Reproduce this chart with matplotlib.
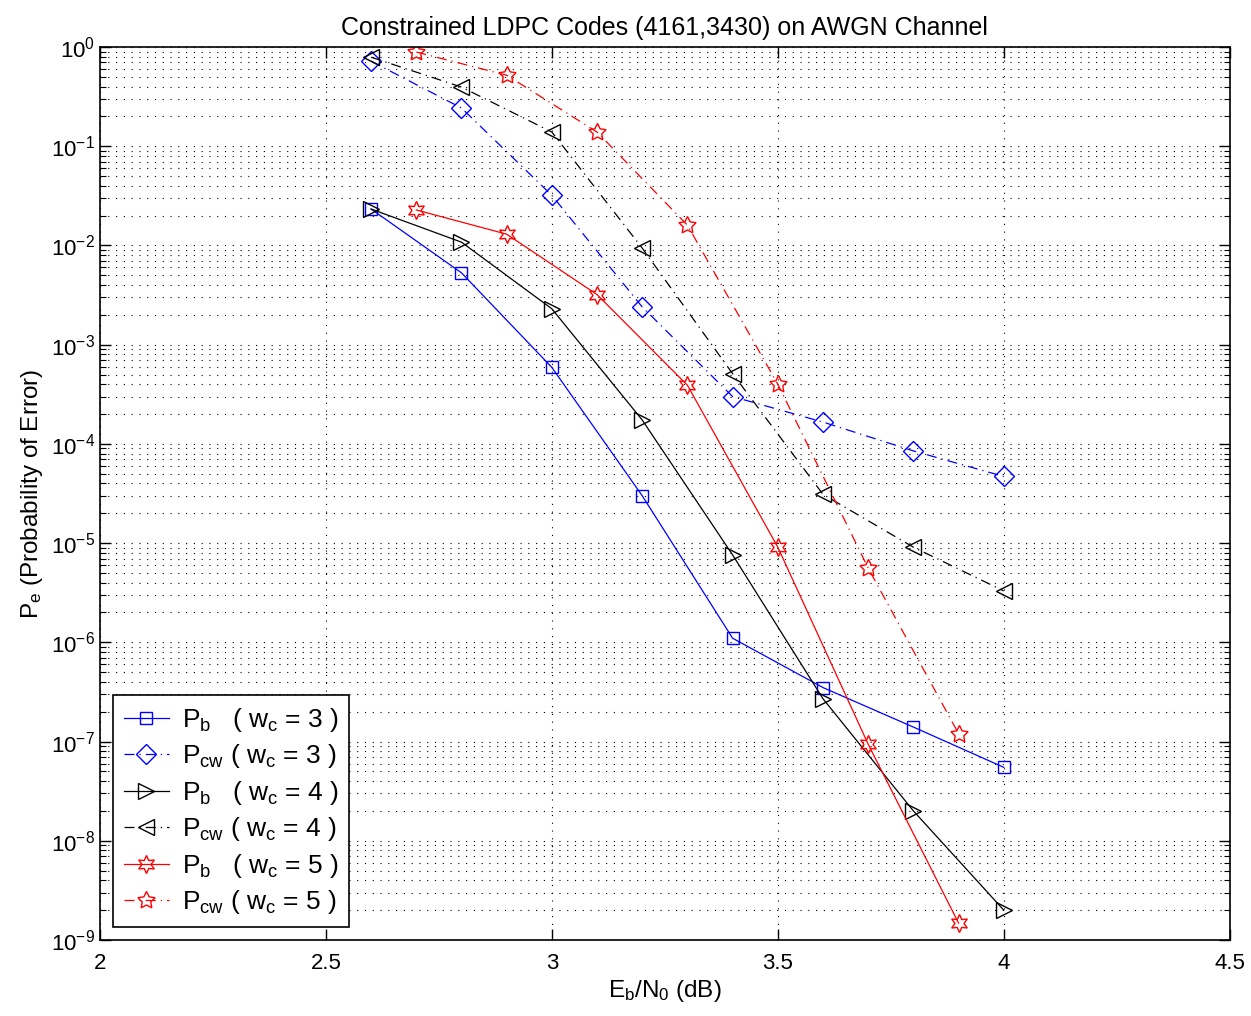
import matplotlib
matplotlib.use('Agg')
import matplotlib.pyplot as plt
from matplotlib.ticker import LogLocator, NullFormatter, FixedLocator

plt.rcParams['font.family'] = ['Liberation Sans', 'DejaVu Sans']
plt.rcParams['mathtext.fontset'] = 'custom'
plt.rcParams['mathtext.rm'] = 'Liberation Sans'
plt.rcParams['mathtext.it'] = 'Liberation Sans'
plt.rcParams['mathtext.bf'] = 'Liberation Sans:bold'

# Eb/N0 points (dB)
snr_a = [2.6, 2.8, 3.0, 3.2, 3.4, 3.6, 3.8, 4.0]
snr_b = [2.7, 2.9, 3.1, 3.3, 3.5, 3.7, 3.9]

# error probabilities
pb_w3 = [2.33e-2, 5.3e-3, 5.9e-4, 3.0e-5, 1.1e-6, 3.5e-7, 1.4e-7, 5.5e-8]
pcw_w3 = [0.72, 0.243, 3.2e-2, 2.4e-3, 3.0e-4, 1.66e-4, 8.5e-5, 4.7e-5]
pb_w4 = [2.33e-2, 1.08e-2, 2.3e-3, 1.74e-4, 7.6e-6, 2.7e-7, 2.0e-8, 2.0e-9]
pcw_w4 = [0.79, 0.395, 0.139, 9.4e-3, 5.1e-4, 3.1e-5, 9.1e-6, 3.3e-6]
pb_w5 = [2.28e-2, 1.3e-2, 3.2e-3, 3.9e-4, 9.1e-6, 9.4e-8, 1.48e-9]
pcw_w5 = [0.89, 0.52, 0.139, 1.6e-2, 4.0e-4, 5.6e-6, 1.2e-7]

x_ticks = [2, 2.5, 3, 3.5, 4, 4.5]
x_ticklabels = ['2', '2.5', '3', '3.5', '4', '4.5']
y_exps = list(range(-9, 1))

fig = plt.figure(figsize=(12.51, 10.16), dpi=100)
ax = fig.add_axes([0.0799, 0.0748, 0.9031, 0.8789])

lw = 0.9
dd = (8, 4, 1, 4)
ax.semilogy(snr_a, pb_w3, '-', color='blue', marker='s', ms=9, mfc='none', mew=1, lw=lw,
            label='$P_b$   ( $w_c$ = 3 )')
ax.semilogy(snr_a, pcw_w3, '-.', color='blue', marker='D', ms=10, mfc='none', mew=1, lw=lw,
            dashes=dd, label='$P_{cw}$ ( $w_c$ = 3 )')
ax.semilogy(snr_a, pb_w4, '-', color='black', marker='>', ms=12, mfc='none', mew=1, lw=lw,
            label='$P_b$   ( $w_c$ = 4 )')
ax.semilogy(snr_a, pcw_w4, '-.', color='black', marker='<', ms=12, mfc='none', mew=1, lw=lw,
            dashes=dd, label='$P_{cw}$ ( $w_c$ = 4 )')
ax.semilogy(snr_b, pb_w5, '-', color='red', marker=(6, 1, 0), ms=13, mfc='none', mew=1, lw=lw,
            label='$P_b$   ( $w_c$ = 5 )')
ax.semilogy(snr_b, pcw_w5, '-.', color='red', marker=(5, 1, 0), ms=13, mfc='none', mew=1, lw=lw,
            dashes=dd, label='$P_{cw}$ ( $w_c$ = 5 )')

ax.set_xlim(2, 4.5)
ax.set_ylim(1e-9, 1e0)
ax.xaxis.set_major_locator(FixedLocator(x_ticks))
ax.set_xticklabels(x_ticklabels)
ax.yaxis.set_major_locator(FixedLocator([10.0 ** e for e in y_exps]))
ax.set_yticklabels(['$10^{%d}$' % e for e in y_exps])
ax.yaxis.set_minor_locator(FixedLocator([m * 10.0 ** e for e in y_exps[:-1] for m in range(2, 10)]))
ax.yaxis.set_minor_formatter(NullFormatter())

ax.grid(True, which='major', axis='both', linestyle=(0, (1, 6)), color='black', lw=0.8)
ax.grid(True, which='minor', axis='y', linestyle=(0, (1, 6)), color='black', lw=0.8)

ax.tick_params(which='both', direction='in', top=True, right=True, labelsize=16)
ax.tick_params(which='major', length=8, width=1)
ax.tick_params(which='minor', length=4, width=0.8)
ax.tick_params(axis='x', pad=9)
for s in ax.spines.values():
    s.set_linewidth(1.2)

ax.set_title('Constrained LDPC Codes (4161,3430) on AWGN Channel', fontsize=18, pad=9)
ax.set_xlabel('$E_b/N_0$ (dB)', fontsize=17.5, labelpad=3)
ax.set_ylabel('$P_e$ (Probability of Error)', fontsize=17.5, labelpad=4)

leg = ax.legend(loc='lower left', fontsize=19, handlelength=1.7, labelspacing=0.32,
                borderpad=0.4, handletextpad=0.5, fancybox=False, framealpha=1,
                edgecolor='black', borderaxespad=0.5)
leg.get_frame().set_linewidth(1.2)

fig.savefig('out.png', dpi=100)
